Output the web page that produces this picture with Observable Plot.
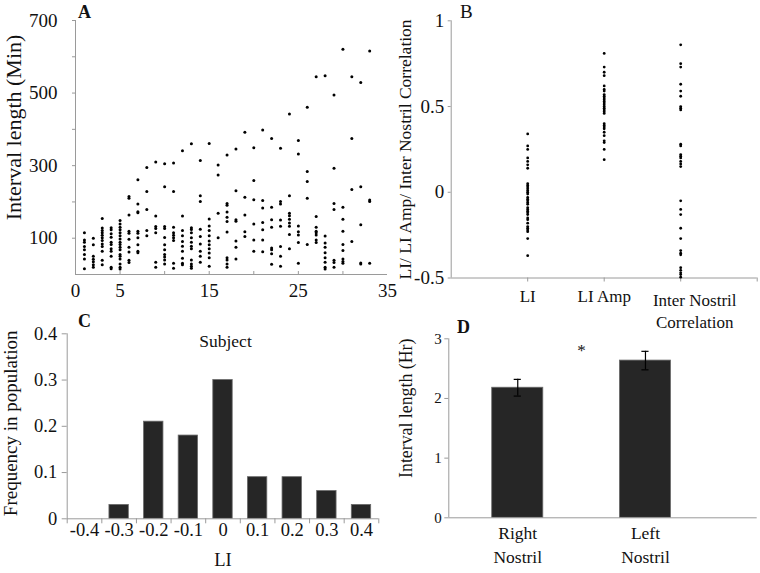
<!DOCTYPE html>
<html><head><meta charset="utf-8">
<script src="https://cdn.jsdelivr.net/npm/d3@7"></script>
<script src="https://cdn.jsdelivr.net/npm/@observablehq/plot@0.6"></script>
<style>
body{margin:0;background:#fff;}
#fig{position:relative;width:760px;height:573px;overflow:hidden;background:#fff;}
.panel{position:absolute;}
.panel svg{overflow:visible;}
.letter{position:absolute;font-family:"Liberation Serif","Times New Roman",serif;color:#111;line-height:1;}
</style></head><body><div id="fig"></div>
<script>
// ---------- Panel A: interval length per subject ----------
const subjects = [1,2,3,4,5,6,7,8,9,10,11,12,13,14,15,16,17,18,19,20,21,22,23,24,25,26,27,28,29,30,31,32,33];
const intervalsMin = [
  [115,95,89,77,68,55,43,16],
  [100,82,50,42,35,27,20],
  [154,128,121,115,108,101,94,84,77,64,39,27],
  [129,123,112,103,89,83,71,64,50,20,16],
  [149,139,130,123,115,107,98,89,83,75,68,55,50,43,29,20,15],
  [215,210,164,119,114,97,75,62,39,33],
  [261,194,173,170,119,114,101,82,64,60],
  [295,229,179,121,107],
  [310,161,132,127,115,34,20],
  [305,242,132,127,102,82,68,55,48,40,29],
  [307,229,130,115,108,101,94,31,17],
  [341,161,121,107,91,78,64,45,31,27],
  [360,129,124,115,101,89,78,71,40,29,23,17],
  [314,217,201,125,105,84,64,50,34],
  [361,153,134,121,107,92,82,71,59,46,23],
  [302,274,169,101],
  [329,196,191,172,158,146,117,46,40,29,20],
  [346,231,151,147,92,75,43],
  [392,213,164,118,105],
  [349,259,206,139,95,64],
  [398,204,183,143,123,95,63],
  [375,185,151,130,73,68,57,28],
  [348,201,194,150,133,77,50,23],
  [442,217,169,162,152,142,133,110,71],
  [369,332,134,118,109,88,31],
  [461,284,256,210,83],
  [545,160,130,119,115,109,95,88],
  [548,106,87,75,60,46,34,20,15],
  [495,293,196,179,39,33,20],
  [621,185,152,119,83,66,43,36,31],
  [545,375,234,91],
  [529,242,137,32,29],
  [616,205,201,31]
];
const aXTickMarks = [5,10,15,20,25,30];
const aXTickLabels = [0,5,15,25,35];
const aYTickMarks = [100,200,300,400,500,600,700];
const aYTickLabels = [100,300,500,700];
const aYTitle = "Interval length (Min)";

// ---------- Panel B ----------
const bCategories = ["LI", "LI Amp", "Inter Nostril\nCorrelation"];
const bLI = [0.34,0.27,0.25,0.20,0.18,0.16,0.14,0.05,0.04,0.03,0.02,0.01,0.0,-0.01,-0.03,-0.04,-0.05,-0.06,-0.07,-0.09,-0.10,-0.11,-0.12,-0.13,-0.15,-0.16,-0.18,-0.20,-0.21,-0.22,-0.23,-0.27,-0.37];
const bLIAmp = [0.81,0.73,0.70,0.68,0.62,0.60,0.59,0.57,0.56,0.55,0.54,0.53,0.52,0.51,0.50,0.49,0.48,0.47,0.46,0.40,0.39,0.38,0.37,0.35,0.33,0.30,0.29,0.25,0.19];
const bCorr = [0.86,0.75,0.73,0.63,0.59,0.56,0.50,0.49,0.48,0.28,0.27,0.22,0.21,0.20,0.18,0.165,0.15,-0.05,-0.10,-0.13,-0.21,-0.27,-0.34,-0.355,-0.365,-0.44,-0.455,-0.47,-0.48,-0.495];
const bYTicks = [-0.5,0,0.5,1];
const bYTitle = "LI/ LI Amp/ Inter Nostril Correlation";

// ---------- Panel C ----------
const cBins = [-0.4,-0.3,-0.2,-0.1,0,0.1,0.2,0.3,0.4];
const cBinLabels = ["-0.4","-0.3","-0.2","-0.1","0","0.1","0.2","0.3","0.4"];
const cFreq = [0,0.03,0.21,0.18,0.30,0.09,0.09,0.06,0.03];
const cYTicks = [0,0.1,0.2,0.3,0.4];
const cTitle = "Subject";
const cXTitle = "LI";
const cYTitle = "Frequency in population";

// ---------- Panel D ----------
const dCategories = ["Right\nNostril", "Left\nNostril"];
const dMean = [2.18, 2.635];
const dErr = [0.14, 0.155];
const dYTicks = [0,1,2,3];
const dYTitle = "Interval length (Hr)";
const dSigMark = "*";
const dSigLevel = 2.8;

// ---------- drawing ----------
const serif = '"Liberation Serif","Times New Roman",serif';
const axisGray = "#9a9a9a";
const ink = "#111";
const barFill = "#262626";
const fig = document.getElementById("fig");
function mount(node, left, top) {
  const d = document.createElement("div");
  d.className = "panel";
  d.style.left = left + "px"; d.style.top = top + "px";
  d.appendChild(node);
  fig.appendChild(d);
}
function baseStyle(size) {
  return {fontFamily: serif, fontSize: size + "px", color: ink, background: "transparent", overflow: "visible"};
}
const hyph = d => String(d).replace("\u2212", "-");
const vTitle = (t, dx, dy, size) => Plot.text([t], {frameAnchor: "left", rotate: -90, textAnchor: "middle", lineAnchor: "middle", dx, dy, fontSize: size});

// Panel A
const aPts = subjects.flatMap((s, i) => intervalsMin[i].map(v => ({subject: s, minutes: v})));
mount(Plot.plot({
  width: 400, height: 300,
  marginLeft: 75, marginRight: 13, marginTop: 20, marginBottom: 26,
  style: baseStyle(19),
  x: {domain: [0, 35]},
  y: {domain: [0, 700]},
  marks: [
    Plot.ruleY([0], {stroke: axisGray}),
    Plot.ruleX([0], {stroke: axisGray}),
    Plot.axisX(aXTickMarks, {tickSize: -3, tickFormat: () => "", stroke: axisGray, label: null}),
    Plot.axisX(aXTickLabels, {tickSize: 0, tickPadding: 9, tickFormat: d => String(d), label: null}),
    Plot.axisY(aYTickMarks, {tickSize: 3, tickFormat: () => "", stroke: axisGray, label: null}),
    Plot.axisY(aYTickLabels, {tickSize: 0, tickPadding: 18, tickFormat: d => String(d), label: null}),
    Plot.dot(aPts, {x: "subject", y: "minutes", r: 1.5, fill: "#000", stroke: null}),
    vTitle(aYTitle, -62, -20, 22)
  ]
}), 0, 0);

// Panel B
const bSeries = [bLI, bLIAmp, bCorr];
const bPts = bSeries.flatMap((vals, i) => vals.map(v => ({pos: i + 1, v})));
const bLab = bCategories.map((c, i) => ({pos: i + 1, c}));
mount(Plot.plot({
  width: 380, height: 330,
  marginLeft: 70.7, marginRight: 3.3, marginTop: 20.3, marginBottom: 52.5,
  style: baseStyle(19),
  x: {domain: [0, bCategories.length + 1]},
  y: {domain: [-0.5, 1]},
  marks: [
    Plot.ruleY([-0.5], {stroke: axisGray}),
    Plot.ruleX([0], {stroke: axisGray}),
    Plot.axisX([1, 2, 3, 4], {tickSize: 4, tickFormat: () => "", stroke: axisGray, label: null}),
    Plot.axisY(bYTicks, {tickSize: 3, tickPadding: 4, stroke: axisGray, tickFormat: hyph, label: null}),
    Plot.dot(bPts, {x: "pos", y: "v", r: 1.4, fill: "#000", stroke: null}),
    Plot.text(bLab.slice(0, 2), {x: "pos", text: "c", frameAnchor: "bottom", lineAnchor: "top", dy: 12, fontSize: 17}),
    Plot.text(bLab.slice(2), {x: "pos", text: "c", frameAnchor: "bottom", lineAnchor: "top", dy: 12, dx: 14, fontSize: 17, lineHeight: 1.3}),
    vTitle(bYTitle, -45.7, 0, 17.5)
  ]
}), 380, 0);

// Panel C
const cData = cBins.map((b, i) => ({b, f: cFreq[i]}));
const cStep = cBins[1] - cBins[0];
const cBounds = cBins.map(b => b - cStep / 2).concat([cBins[cBins.length - 1] + cStep / 2]);
const cHalf = cStep * 0.28;
mount(Plot.plot({
  width: 380, height: 273,
  marginLeft: 66.7, marginRight: 1.7, marginTop: 33.3, marginBottom: 54.7,
  style: baseStyle(18.5),
  x: {domain: [cBounds[0], cBounds[cBounds.length - 1]]},
  y: {domain: [0, 0.4]},
  marks: [
    Plot.rectY(cData.filter(d => d.f > 0), {x1: d => d.b - cHalf, x2: d => d.b + cHalf, y1: 0, y2: "f", fill: barFill, stroke: "#6a6a6a", strokeWidth: 0.8}),
    Plot.ruleY([0], {stroke: axisGray}),
    Plot.ruleX([cBounds[0]], {stroke: axisGray}),
    Plot.axisX(cBounds, {tickSize: 5, tickFormat: () => "", stroke: axisGray, label: null}),
    Plot.axisX(cBins, {tickSize: 0, tickPadding: 4, tickFormat: d => cBinLabels[cBins.indexOf(d)], label: null}),
    Plot.axisY(cYTicks, {tickSize: 5, tickPadding: 5, stroke: axisGray, tickFormat: d => String(d), label: null}),
    Plot.text([cTitle], {frameAnchor: "top", dx: 2.5, dy: 1, fontSize: 17.5}),
    Plot.text([cXTitle], {frameAnchor: "bottom", dy: 46.7, fontSize: 18.5}),
    vTitle(cYTitle, -56.7, -3, 19)
  ]
}), 0, 300);

// Panel D
const dData = dCategories.map((c, i) => ({pos: i + 1, c, mean: dMean[i], err: dErr[i]}));
const dHalf = 0.2, dCap = 0.028;
mount(Plot.plot({
  width: 380, height: 273,
  marginLeft: 68.3, marginRight: 3.3, marginTop: 38.3, marginBottom: 55.7,
  style: baseStyle(15),
  x: {domain: [0.46, 2.875]},
  y: {domain: [0, 3]},
  marks: [
    Plot.rectY(dData, {x1: d => d.pos - dHalf, x2: d => d.pos + dHalf, y1: 0, y2: "mean", fill: barFill, stroke: "#6a6a6a", strokeWidth: 0.8}),
    Plot.ruleX(dData, {x: "pos", y1: d => d.mean - d.err, y2: d => d.mean + d.err, stroke: "#000", strokeWidth: 1.2}),
    Plot.ruleY(dData, {x1: d => d.pos - dCap, x2: d => d.pos + dCap, y: d => d.mean + d.err, stroke: "#000", strokeWidth: 1.2}),
    Plot.ruleY(dData, {x1: d => d.pos - dCap, x2: d => d.pos + dCap, y: d => d.mean - d.err, stroke: "#000", strokeWidth: 1.2}),
    Plot.ruleY([0], {stroke: axisGray}),
    Plot.ruleX([0.46], {stroke: axisGray}),
    Plot.axisY(dYTicks, {tickSize: 4, tickPadding: 3, stroke: axisGray, tickFormat: d => String(d), label: null}),
    Plot.axisX(dData.map(d => d.pos), {tickSize: 0, tickPadding: 5, tickFormat: d => dCategories[d - 1], fontSize: 17.5, lineHeight: 1.33, label: null}),
    Plot.text([dSigMark], {x: [(dData[0].pos + dData[1].pos) / 2], y: [dSigLevel], fontSize: 17}),
    vTitle(dYTitle, -42.3, -20, 17.8)
  ]
}), 380, 300);

// panel letters
[["A", 78, 3, true, 18], ["B", 460, 2, false, 19], ["C", 78, 312, true, 18], ["D", 457, 318, true, 18]].forEach(([t, x, y, b, s]) => {
  const sp = document.createElement("span");
  sp.className = "letter";
  sp.textContent = t;
  sp.style.left = x + "px"; sp.style.top = y + "px";
  sp.style.fontSize = s + "px";
  sp.style.fontWeight = b ? "bold" : "normal";
  fig.appendChild(sp);
});
</script>
</body></html>
